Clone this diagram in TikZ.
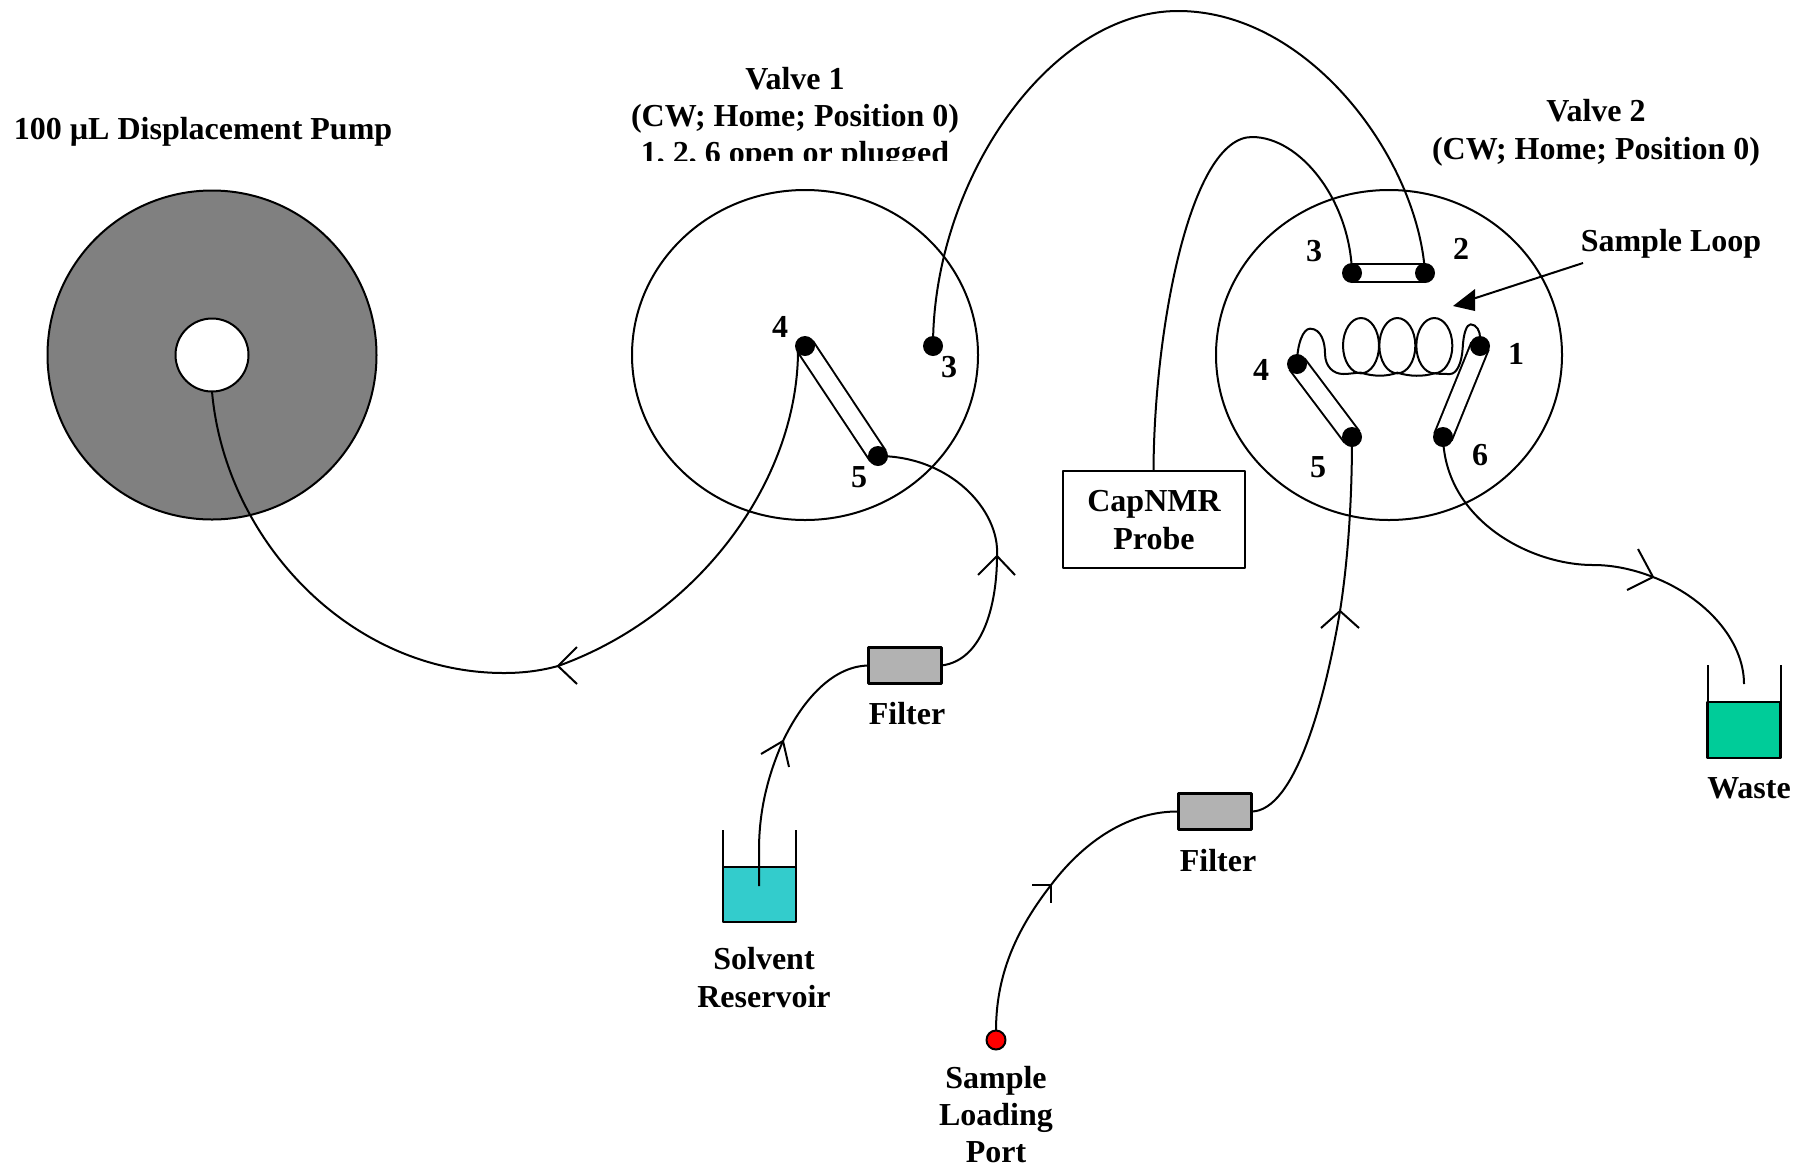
\documentclass[tikz,border=0pt]{standalone}
\usepackage{fontspec}
\setmainfont{Liberation Serif}
\usetikzlibrary{shapes.geometric}
\pgfdeclarelayer{bg}
\pgfsetlayers{bg,main}
\definecolor{solvent}{HTML}{33CCCC}
\definecolor{wastec}{HTML}{00CC99}
\definecolor{filterc}{HTML}{B2B2B2}
\tikzset{
  pipe/.style={draw=black,line width=1pt},
  lbl/.style={inner sep=0pt,anchor=base,font=\fontsize{16pt}{18pt}\selectfont\bfseries,align=center},
  portdot/.style={circle,fill=black,draw=none,minimum size=10pt,inner sep=0pt},
  valvebody/.style={ellipse,draw=black,line width=1pt,minimum width=173pt,minimum height=165pt,inner sep=0pt,outer sep=0pt},
  tube/.style={draw=black,line width=1pt,double=white,double distance=8.4pt},
  filterbox/.style={rectangle,draw=black,line width=1.1pt,fill=filterc,minimum width=36.5pt,minimum height=18pt,inner sep=0pt,outer sep=0pt},
  liquid/.style={rectangle,draw=black,line width=1.1pt,minimum width=36.5pt,inner sep=0pt,outer sep=0pt},
}
\begin{document}
\begin{tikzpicture}[x=0.5pt,y=-0.5pt,line join=round]
\useasboundingbox (0,0) rectangle (1797,1168);

% pump
\node[circle,draw=black,line width=1pt,fill=black!50,minimum size=164.5pt,inner sep=0pt,outer sep=0pt] (pump) at (212,355) {};
\node[circle,draw=black,line width=1pt,fill=white,minimum size=36.5pt,inner sep=0pt,outer sep=0pt] (hole) at (212,355) {};

% valves
\node[valvebody] (valveA) at (805,355) {};
\node[valvebody] (valveB) at (1389,355) {};

% ports
\node[portdot] (a4) at (805,346) {};
\node[portdot] (a3) at (933,346) {};
\node[portdot] (a5) at (878,456) {};
\node[portdot] (b3) at (1352,273) {};
\node[portdot] (b2) at (1425,273) {};
\node[portdot] (b1) at (1480,346) {};
\node[portdot] (b4) at (1297,364) {};
\node[portdot] (b5) at (1352,437) {};
\node[portdot] (b6) at (1443,437) {};

% filters, probe, containers
\node[filterbox] (f1) at (905,665.5) {};
\node[filterbox] (f2) at (1215,811.5) {};
\node[rectangle,draw=black,line width=1pt,minimum width=91pt,minimum height=48.5pt,inner sep=0pt,outer sep=0pt] (probe) at (1153.5,519.5) {};
\node[liquid,fill=solvent,minimum height=27.5pt] (solv) at (759.5,894.5) {};
\node[liquid,fill=wastec,minimum height=28pt] (wast) at (1744,730) {};
\node[circle,draw=black,line width=1pt,fill=red,minimum size=9.5pt,inner sep=0pt,outer sep=0pt] (load) at (996,1040) {};

% free ends and arrow vertices
\coordinate (pv) at (558,666);
\coordinate (pl) at (577,647);
\coordinate (pr) at (577,684);
\coordinate (fa) at (997,556);
\coordinate (fal) at (978,575);
\coordinate (far) at (1015,575);
\coordinate (sa) at (783,741);
\coordinate (sal) at (761,754);
\coordinate (sar) at (789,767);
\coordinate (sb) at (759,886);
\coordinate (ga) at (1340,611);
\coordinate (gal) at (1321,628);
\coordinate (gar) at (1359,628);
\coordinate (la) at (1051,885);
\coordinate (lal) at (1032,885);
\coordinate (lar) at (1051,903);
\coordinate (wa) at (1653,577);
\coordinate (wal) at (1638,549);
\coordinate (war) at (1627,590);
\coordinate (wb) at (1744,684);
\coordinate (sl1) at (1583,263);
\coordinate (sl2) at (1453,306);
\coordinate (sl3) at (1474,298.5);
\coordinate (st1) at (723,830);
\coordinate (st2) at (796,830);
\coordinate (wt1) at (1707,665);
\coordinate (wt2) at (1781,665);

\begin{pgfonlayer}{bg}
\draw[tube] (a4.center) -- (a5.center);
\draw[tube] (b3.center) -- (b2.center);
\draw[tube] (b4.center) -- (b5.center);
\draw[tube] (b1.center) -- (b6.center);
\end{pgfonlayer}

% connectors
\draw[pipe] (798,350) .. controls (798,480) and (700,615) .. (pv)
  .. controls (540,671) and (522,673) .. (504,673)
  .. controls (350,673) and (225,540) .. (hole.south);
\draw[pipe] (pl) -- (pv) -- (pr);

\draw[pipe] (f1.east) .. controls (985,660) and (997,600) .. (fa)
  .. controls (1000,510) and (950,456) .. (a5.center);
\draw[pipe] (fal) -- (fa) -- (far);

\draw[pipe] (sb) -- (759,850) .. controls (759,810) and (768,775) .. (sa)
  .. controls (800,705) and (830,666) .. (f1.west);
\draw[pipe] (sal) -- (sa) -- (sar);

\draw[pipe] (f2.east) .. controls (1295,811) and (1325,700) .. (ga)
  .. controls (1348,560) and (1352,500) .. (b5.center);
\draw[pipe] (gal) -- (ga) -- (gar);

\draw[pipe] (load.north) .. controls (996,970) and (1020,925) .. (la)
  .. controls (1085,840) and (1130,811) .. (f2.west);
\draw[pipe] (lal) -- (la) -- (lar);

\draw[pipe] (b6.center) .. controls (1445,520) and (1530,565) .. (1593,565)
  .. controls (1615,565) and (1635,570) .. (wa)
  .. controls (1705,597) and (1744,640) .. (wb);
\draw[pipe] (wal) -- (wa) -- (war);

\draw[pipe] (b2.center) .. controls (1418,160) and (1310,11) .. (1178,11)
  .. controls (1050,11) and (933,180) .. (a3.center);
\draw[pipe] (b3.center) .. controls (1350,200) and (1300,137) .. (1252,137)
  .. controls (1190,137) and (1154,330) .. (probe.north);

% containers' walls
\draw[pipe] (solv.north west) -- (solv.north west |- st1);
\draw[pipe] (solv.north east) -- (solv.north east |- st2);
\draw[pipe] (wast.north west) -- (wast.north west |- wt1);
\draw[pipe] (wast.north east) -- (wast.north east |- wt2);

% sample loop arrow
\draw[pipe] (sl1) -- (sl3);
\fill[black] (sl2) -- (1475,289) -- (1475,311) -- cycle;

% coil
\begin{scope}[shift={(1190,220)},scale=0.33333]
\draw[pipe] (321,433) .. controls (321,370) and (340,326) .. (360,326)
  .. controls (395,326) and (405,370) .. (405,400)
  .. controls (405,440) and (430,462) .. (460,462)
  .. controls (480,462) and (495,458) .. (513,458)
  .. controls (550,470) and (590,470) .. (622,458)
  .. controls (660,470) and (700,470) .. (733,460)
  .. controls (750,462) and (765,462) .. (780,462)
  .. controls (800,462) and (815,430) .. (818,385)
  .. controls (820,340) and (830,313) .. (842,313)
  .. controls (860,313) and (870,335) .. (870,350);
\draw[pipe] (513,377) ellipse [x radius=54,y radius=83];
\draw[pipe] (622,377) ellipse [x radius=54,y radius=83];
\draw[pipe] (733,377) ellipse [x radius=54,y radius=83];
\end{scope}

% labels
\node[lbl] (tpump) at (203,139) {100 µL Displacement Pump};
\node[lbl] (tv1a) at (795,89) {Valve 1};
\node[lbl] (tv1b) at (795,126) {(CW; Home; Position 0)};
\begin{scope}
\clip (600,130) rectangle (1000,160.5);
\node[lbl] (tv1c) at (795,163) {1, 2, 6 open or plugged};
\end{scope}
\node[lbl] (tv2a) at (1596,121) {Valve 2};
\node[lbl] (tv2b) at (1596,159) {(CW; Home; Position 0)};
\node[lbl] (tloop) at (1671,251) {Sample Loop};
\node[lbl] (tprobea) at (1154,511) {CapNMR};
\node[lbl] (tprobeb) at (1154,549) {Probe};
\node[lbl] (tf1) at (907,724) {Filter};
\node[lbl] (tf2) at (1218,871) {Filter};
\node[lbl] (ts1) at (764,969) {Solvent};
\node[lbl] (ts2) at (764,1007) {Reservoir};
\node[lbl] (tw) at (1749,798) {Waste};
\node[lbl] (tl1) at (996,1088) {Sample};
\node[lbl] (tl2) at (996,1125) {Loading};
\node[lbl] (tl3) at (996,1162) {Port};

\node[lbl] (na4) at (780,337) {4};
\node[lbl] (na3) at (949,377) {3};
\node[lbl] (na5) at (859,487) {5};
\node[lbl] (nb3) at (1314,261) {3};
\node[lbl] (nb2) at (1461,259) {2};
\node[lbl] (nb1) at (1516,364) {1};
\node[lbl] (nb4) at (1261,380) {4};
\node[lbl] (nb5) at (1318,477) {5};
\node[lbl] (nb6) at (1480,465) {6};
\end{tikzpicture}
\end{document}
